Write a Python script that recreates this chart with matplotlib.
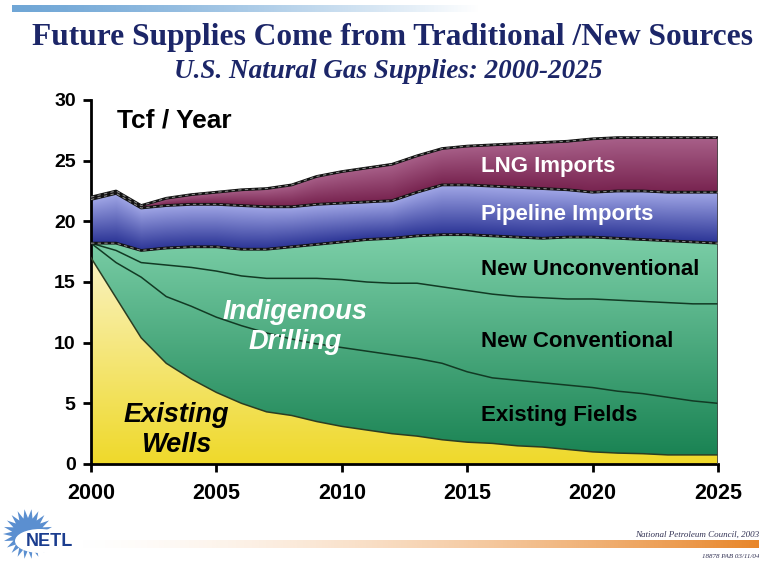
import numpy as np
import matplotlib
matplotlib.use("Agg")
import matplotlib.pyplot as plt
from matplotlib.colors import to_rgb
from matplotlib.patches import Polygon, Ellipse

# U.S. natural gas supply by source, Tcf per year
years = np.arange(2000, 2026)
existing_wells = [17.0, 13.7, 10.4, 8.3, 7.0, 5.9, 5.0, 4.3, 4.0, 3.5, 3.1, 2.8, 2.5,
                  2.3, 2.0, 1.8, 1.7, 1.5, 1.4, 1.2, 1.0, 0.9, 0.85, 0.75, 0.75, 0.75]
existing_fields = [1.2, 2.9, 5.0, 5.5, 6.0, 6.2, 6.4, 6.5, 6.3, 6.4, 6.5, 6.5, 6.5,
                   6.4, 6.3, 5.8, 5.4, 5.4, 5.3, 5.3, 5.3, 5.1, 4.95, 4.75, 4.45, 4.25]
new_conventional = [0.0, 1.0, 1.2, 2.6, 3.2, 3.8, 4.1, 4.5, 5.0, 5.4, 5.6, 5.7, 5.9,
                    6.2, 6.3, 6.7, 6.9, 6.9, 7.0, 7.1, 7.3, 7.5, 7.6, 7.8, 8.0, 8.2]
new_unconventional = [0.0, 0.6, 1.0, 1.4, 1.7, 2.0, 2.2, 2.4, 2.6, 2.8, 3.1, 3.5, 3.7,
                      3.9, 4.3, 4.6, 4.8, 4.9, 4.9, 5.1, 5.1, 5.1, 5.1, 5.1, 5.1, 5.0]
pipeline_imports = [3.6, 4.1, 3.5, 3.5, 3.5, 3.5, 3.6, 3.5, 3.3, 3.3, 3.2, 3.1, 3.1,
                    3.6, 4.1, 4.1, 4.1, 4.1, 4.1, 3.9, 3.7, 3.9, 4.0, 4.0, 4.1, 4.2]
lng_imports = [0.2, 0.2, 0.2, 0.6, 0.8, 1.0, 1.3, 1.5, 1.8, 2.3, 2.6, 2.8, 3.0,
               3.0, 3.0, 3.2, 3.4, 3.6, 3.8, 4.0, 4.4, 4.4, 4.4, 4.5, 4.5, 4.5]

x_ticks = [2000, 2005, 2010, 2015, 2020, 2025]
y_ticks = [0, 5, 10, 15, 20, 25, 30]

sans = "Liberation Sans"
serif = "Liberation Serif"
navy = "#1c2668"

layers = np.array([existing_wells, existing_fields, new_conventional,
                   new_unconventional, pipeline_imports, lng_imports])
tops = np.cumsum(layers, axis=0)
bottoms = np.vstack([np.zeros(len(years)), tops[:-1]])

W, H = 759, 565
fig = plt.figure(figsize=(W / 100, H / 100), dpi=100)

# page decoration layer in pixel coordinates
deco = fig.add_axes([0, 0, 1, 1], zorder=0)
deco.set_xlim(0, W)
deco.set_ylim(H, 0)
deco.axis("off")

# blue bar at the top, fading to white
blue = np.array(to_rgb("#6fa6d6"))
t = np.linspace(0, 1, 300)
bar = np.ones((1, 300, 4))
bar[0, :, :3] = blue
bar[0, :, 3] = np.clip(1 - t ** 1.3, 0, 1)
deco.imshow(bar, extent=[12, 480, 12, 5], aspect="auto", interpolation="bilinear")

# orange bar at the bottom, fading in from the left
orange = np.array(to_rgb("#e8862a"))
bar2 = np.ones((1, 300, 4))
bar2[0, :, :3] = orange
bar2[0, :, 3] = np.clip(t ** 1.6, 0, 1)
deco.imshow(bar2, extent=[60, W, 548, 540], aspect="auto", interpolation="bilinear")

deco.text(392, 38, "Future Supplies Come from Traditional /New Sources", family=serif,
          weight="bold", size=22.6, color=navy, ha="center", va="center")
deco.text(388, 71, "U.S. Natural Gas Supplies: 2000-2025", family=serif, weight="bold",
          style="italic", size=19.5, color=navy, ha="center", va="center")
deco.text(759, 535, "National Petroleum Council, 2003", family=serif, style="italic",
          size=6.5, color="#333355", ha="right", va="center")
deco.text(759, 556, "18878 PAB 03/11/04", family=serif, style="italic", size=5,
          color="#333355", ha="right", va="center")

# NETL starburst logo
n_spikes = 22
ang = np.linspace(0, 2 * np.pi, 2 * n_spikes, endpoint=False)
rad = np.where(np.arange(2 * n_spikes) % 2 == 0, 25, 16)
star = np.column_stack([28 + rad * np.cos(ang), 534 + rad * np.sin(ang)])
deco.add_patch(Polygon(star, closed=True, facecolor="#5b8fd0", edgecolor="none"))
deco.add_patch(Ellipse((40, 541), 50, 24, facecolor="white", edgecolor="none"))
deco.text(49, 542, "NETL", family=sans, weight="bold", size=13, color="#1b3d8f",
          ha="center", va="center")

# main chart
ax = fig.add_axes([91 / W, 1 - 464 / H, 627 / W, 364 / H], zorder=1)
ax.set_facecolor("none")

gx = np.linspace(2000, 2025, 600)
gy = np.linspace(0, 30, 720)
GX, GY = np.meshgrid(gx, gy)


def gradient_band(lower, upper, c_bot, c_top, span=None):
    lo = np.interp(GX, years, lower)
    hi = np.interp(GX, years, upper)
    if span is None:
        frac = np.clip((GY - lo) / np.maximum(hi - lo, 1e-6), 0, 1)
    else:
        frac = np.clip((GY - span[0]) / (span[1] - span[0]), 0, 1)
    c0 = np.array(to_rgb(c_bot))
    c1 = np.array(to_rgb(c_top))
    img = c0 + frac[..., None] * (c1 - c0)
    poly = ax.fill_between(years, lower, upper, facecolor="none", edgecolor="none")
    im = ax.imshow(img, extent=[2000, 2025, 0, 30], origin="lower", aspect="auto",
                   interpolation="bilinear", zorder=1)
    im.set_clip_path(poly.get_paths()[0], transform=ax.transData)


# yellow existing wells and green indigenous drilling shaded by height
gradient_band(bottoms[0], tops[0], "#efd92a", "#faf3c4", span=(0, 17.5))
gradient_band(tops[0], tops[3], "#168050", "#7dd0a9", span=(0, 19))
gradient_band(bottoms[4], tops[4], "#2c3596", "#a3a9e8")
gradient_band(bottoms[5], tops[5], "#782450", "#a9618a")

# thin boundaries inside the domestic supply
ax.plot(years, tops[0], color="#2b3d22", lw=1.1, zorder=3)
for k in (1, 2):
    ax.plot(years, tops[k], color="#123a24", lw=1.1, zorder=3)
# dashed boundaries around the imports
for k in (3, 4, 5):
    ax.plot(years, tops[k], color="#111111", lw=2.0, zorder=3)
    ax.plot(years, tops[k], color="#888888", lw=0.8, ls=(0, (3, 3)), zorder=4)
ax.vlines(2025, 0, tops[5][-1], color="#444444", lw=1.2, zorder=3)

ax.set_xlim(2000, 2025)
ax.set_ylim(0, 30)
ax.set_xticks(x_ticks)
ax.set_yticks(y_ticks)
for side in ("top", "right"):
    ax.spines[side].set_visible(False)
for side in ("left", "bottom"):
    ax.spines[side].set_linewidth(2)
ax.spines["bottom"].set_bounds(2000, 2025)
ax.tick_params(axis="both", width=2, length=6)
ax.tick_params(axis="x", pad=8, labelsize=15.5)
ax.tick_params(axis="y", pad=5, labelsize=14)
for lab in ax.get_xticklabels() + ax.get_yticklabels():
    lab.set_family(sans)
    lab.set_weight("bold")

ax.text(2001.05, 28.3, "Tcf / Year", family=sans, weight="bold", size=19, va="center")
band_labels = [("LNG Imports", 24.5, "white"), ("Pipeline Imports", 20.6, "white"),
               ("New Unconventional", 16.0, "black"), ("New Conventional", 10.1, "black"),
               ("Existing Fields", 3.96, "black")]
for text, yv, col in band_labels:
    ax.text(2015.55, yv, text, family=sans, weight="bold", size=16, color=col,
            va="center", zorder=5)
ax.text(2008.15, 11.3, "Indigenous\nDrilling", family=sans, weight="bold", style="italic",
        size=19.5, color="white", ha="center", va="center", linespacing=1.2, zorder=5)
ax.text(2003.4, 2.8, "Existing\nWells", family=sans, weight="bold", style="italic",
        size=19.5, color="black", ha="center", va="center", linespacing=1.2, zorder=5)

fig.savefig("out.png", dpi=100)
